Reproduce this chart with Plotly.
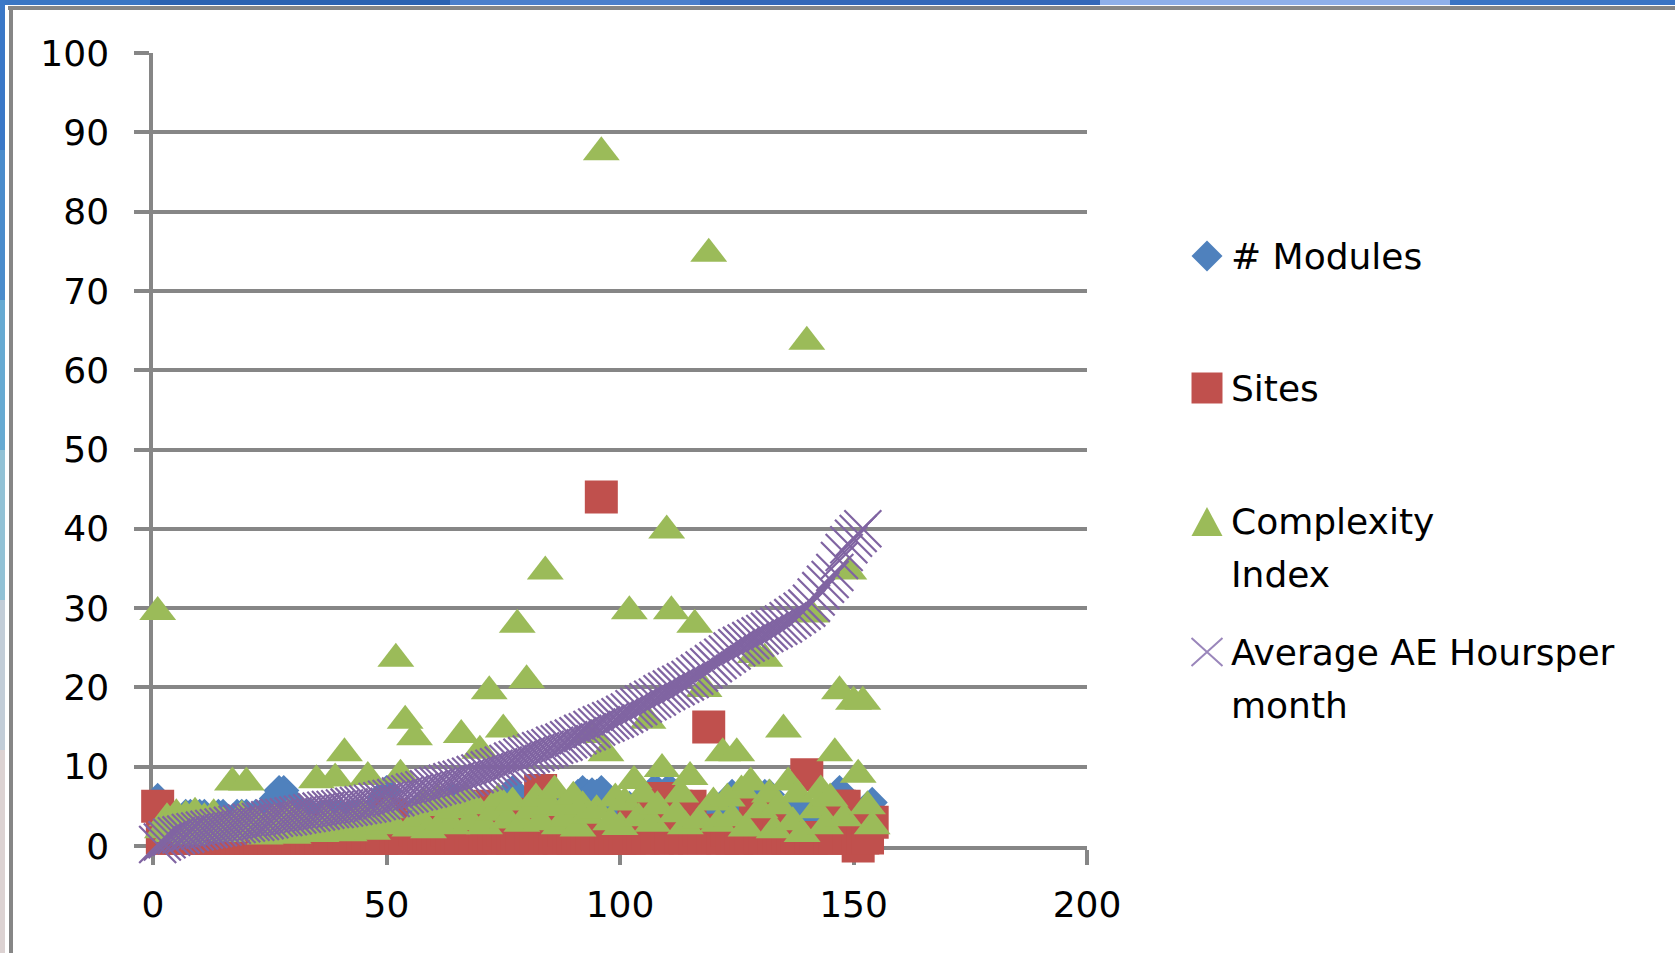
import plotly.graph_objects as go

# ---- data -----------------------------------------------------------------
record = list(range(1, 155))

modules = [
    6, 3, 3, 4, 3, 3, 4, 4, 3, 4,
    4, 3, 3, 4, 4, 3, 3, 4, 4, 4,
    3, 4, 4, 4, 5, 6, 7, 7, 6, 4,
    3, 4, 4, 4, 3, 4, 4, 4, 4, 4,
    3, 4, 4, 4, 4, 4, 3, 5, 6, 7,
    4, 4, 3, 4, 4, 4, 5, 4, 4, 4,
    3, 4, 4, 6, 6, 4, 4, 4, 4, 3,
    4, 4, 4, 4, 5, 6.5, 7, 6.5, 5, 4,
    4, 4, 4, 4, 3, 5, 4, 4, 4, 5,
    6.5, 7, 6.5, 6.7, 6.5, 7, 6, 5, 4, 4,
    4, 5, 4, 4, 4, 4, 7, 7, 5, 7,
    7, 6.5, 4, 4, 4, 4, 4, 4, 4, 4,
    4, 4, 4, 6.5, 4, 4, 4, 4, 4, 4,
    6.5, 6.5, 4, 4, 4, 4, 4, 4, 5, 4,
    4, 4, 4, 4, 5, 4, 7, 4, 4, 4,
    4, 4, 5, 5.5,
]

sites = [
    5, 1, 1, 1, 1, 1, 1, 1, 1, 1,
    1, 1, 1, 1, 1, 1, 1, 1, 1, 1,
    1, 1, 1, 1, 1, 1, 1, 2, 1, 1,
    1, 1, 1, 1, 1, 1, 2, 1, 1, 1,
    1, 1, 1, 1, 1, 1, 1, 1, 1, 1,
    4, 1, 1, 1, 1, 2, 1, 1, 1, 1,
    1, 1, 2, 1, 1, 1, 1, 1, 1, 5,
    1, 1, 1, 1, 2, 1, 1, 1, 1, 4,
    1, 1, 7, 1, 1, 1, 1, 2, 1, 1,
    1, 1, 1, 1, 1, 44, 1, 1, 1, 1,
    1, 1, 4, 1, 1, 1, 5, 1, 6, 1,
    1, 5, 1, 1, 5, 1, 2, 1, 15, 1,
    1, 1, 2, 1, 1, 1, 1, 1, 4, 1,
    1, 3, 1, 1, 1, 1, 1, 1, 1, 9,
    1, 1, 1, 1, 1, 1, 5, 5, 1, 1,
    0, 1, 1, 3,
]

complexity = [
    29.5, 2.0, 3.5, 1.5, 4.0, 2.5, 3.8, 1.2, 4.2, 2.8,
    3.5, 1.8, 4.0, 2.2, 3.0, 1.5, 8.0, 2.5, 3.8, 8.0,
    1.8, 3.2, 2.0, 1.2, 2.8, 3.5, 1.5, 2.2, 4.0, 1.3,
    2.5, 3.0, 1.8, 2.2, 8.3, 1.5, 3.4, 2.0, 8.5, 2.8,
    11.7, 1.6, 3.0, 2.4, 4.0, 8.7, 1.8, 3.2, 2.5, 4.5,
    3.0, 23.6, 9.0, 15.8, 2.2, 13.7, 3.5, 5.5, 2.0, 4.8,
    6.0, 3.0, 5.2, 2.5, 4.5, 14.0, 6.2, 3.0, 5.0, 12.0,
    2.5, 19.5, 4.2, 6.0, 14.7, 3.2, 5.5, 27.9, 2.8, 20.9,
    4.5, 6.0, 3.0, 34.6, 5.0, 7.0, 2.5, 4.8, 3.5, 6.2,
    2.2, 5.0, 3.8, 14.0, 4.5, 87.5, 11.7, 3.0, 6.0, 2.4,
    5.5, 29.6, 8.2, 3.5, 6.5, 15.8, 2.8, 5.0, 9.7, 39.8,
    29.6, 4.0, 6.5, 2.5, 8.7, 27.9, 3.2, 19.8, 74.7, 5.5,
    2.8, 11.7, 6.0, 3.5, 11.7, 7.0, 2.2, 8.0, 24.1, 4.5,
    23.6, 6.5, 2.0, 5.0, 14.7, 8.0, 3.0, 6.5, 1.5, 63.6,
    29.2, 4.5, 7.0, 2.5, 6.0, 11.7, 19.5, 3.5, 34.6, 18.2,
    9.0, 18.2, 5.0, 2.5,
]

# no hours recorded for the last two records
ae_hours = [
    0.2, 0.5, 0.8, 1.1, 1.3, 1.4, 1.5, 1.7, 1.8, 1.9,
    2.0, 2.1, 2.2, 2.3, 2.4, 2.5, 2.6, 2.7, 2.8, 2.9,
    3.0, 3.0, 3.1, 3.2, 3.3, 3.5, 3.6, 3.6, 3.7, 3.8,
    3.9, 4.0, 4.1, 4.2, 4.3, 4.4, 4.5, 4.6, 4.6, 4.7,
    4.8, 4.9, 5.0, 5.1, 5.2, 5.3, 5.4, 5.6, 5.7, 5.9,
    6.0, 6.1, 6.3, 6.5, 6.6, 6.8, 6.9, 7.1, 7.2, 7.4,
    7.6, 7.7, 7.9, 8.1, 8.3, 8.4, 8.6, 8.8, 9.0, 9.2,
    9.4, 9.6, 9.8, 10.0, 10.2, 10.4, 10.7, 10.9, 11.2, 11.4,
    11.6, 11.8, 12.0, 12.2, 12.4, 12.7, 12.9, 13.1, 13.4, 13.6,
    13.9, 14.2, 14.4, 14.7, 15.0, 15.3, 15.5, 15.8, 16.0, 16.3,
    16.6, 16.9, 17.3, 17.6, 17.9, 18.2, 18.5, 18.8, 19.2, 19.5,
    19.8, 20.1, 20.4, 20.7, 21.0, 21.4, 21.8, 22.2, 22.6, 23.0,
    23.4, 23.8, 24.2, 24.6, 25.0, 25.3, 25.6, 25.9, 26.2, 26.5,
    26.8, 27.1, 27.4, 27.7, 28.0, 28.4, 28.8, 29.2, 29.6, 30.0,
    30.6, 31.4, 32.2, 33.0, 33.6, 34.5, 36.0, 37.0, 38.0, 38.8,
    39.4, 40.0, None, None,
]

series_names = ["# Modules", "Sites", "Complexity Index", "Average AE Hoursper month"]
legend_lines = [["# Modules"], ["Sites"], ["Complexity", "Index"], ["Average AE Hoursper", "month"]]
x_ticks = [0, 50, 100, 150, 200]
y_ticks = [0, 10, 20, 30, 40, 50, 60, 70, 80, 90, 100]

# ---- styling --------------------------------------------------------------
BLUE, RED, GREEN, PURPLE = "#4F81BD", "#C0504D", "#9BBB59", "#8064A2"
GRID = "#868686"
FONT = "DejaVu Sans"
FS = 36

W, H = 1675, 953
L, R, T, B = 153, 588, 53, 107
PW, PH = W - L - R, H - T - B


def fx(px):
    return (px - L) / PW


def fy(py):
    return (H - B - py) / PH


fig = go.Figure()
fig.add_trace(go.Scatter(x=record, y=modules, name=series_names[0], mode="markers",
                         marker=dict(symbol="diamond", size=24, color=BLUE, line=dict(width=0)),
                         cliponaxis=False))
fig.add_trace(go.Scatter(x=record, y=sites, name=series_names[1], mode="markers",
                         marker=dict(symbol="square", size=33, color=RED, line=dict(width=0)),
                         cliponaxis=False))
fig.add_trace(go.Scatter(x=record, y=complexity, name=series_names[2], mode="markers",
                         marker=dict(symbol="triangle-up", size=32, color=GREEN, line=dict(width=0)),
                         cliponaxis=False))
fig.add_trace(go.Scatter(x=record, y=ae_hours, name=series_names[3], mode="markers",
                         marker=dict(symbol="x-thin", size=37, color=PURPLE,
                                     line=dict(width=2.2, color=PURPLE)),
                         cliponaxis=False))

axis_common = dict(
    showline=True, linecolor=GRID, linewidth=3.5,
    ticks="outside", ticklen=15, tickwidth=3.5, tickcolor=GRID,
    zeroline=False, layer="below traces",
    tickfont=dict(family=FONT, size=FS, color="black"),
)
fig.update_xaxes(range=[0, 200], tickvals=x_ticks, showgrid=False,
                 ticklabelstandoff=9, **axis_common)
fig.update_yaxes(range=[0, 100], tickvals=y_ticks, showgrid=True,
                 gridcolor=GRID, gridwidth=3.5, ticklabelstandoff=18, **axis_common)

shapes = []


def rect(x0, y0, x1, y1, color):
    shapes.append(dict(type="rect", xref="paper", yref="paper",
                       x0=fx(x0), x1=fx(x1), y0=fy(y1), y1=fy(y0),
                       fillcolor=color, line=dict(width=0), layer="above"))


# window frame: blue title strip on top, tinted strip on the left, grey border
top_strip = [(0, 150, "#3a76c4"), (150, 450, "#2a62b2"), (450, 700, "#4a7fcc"),
             (700, 1100, "#3468b8"), (1100, 1450, "#8fb0ea"), (1450, 1675, "#3a74c4")]
for a, b, c in top_strip:
    rect(a, 0, b, 5, c)
left_strip = [(0, 150, "#3a78c8"), (150, 300, "#4a8ccc"), (300, 450, "#66aad2"),
              (450, 600, "#92c2d6"), (600, 750, "#c2cdd8"), (750, 953, "#dcd2d2")]
for a, b, c in left_strip:
    rect(0, a, 5, b, c)
rect(8, 6, W, 10, GRID)
rect(9, 6, 13, H, GRID)

# legend keys
MX = 1207
key_rows = [256, 388, 521, 652]
hw = 15.5
cx, cy = MX, key_rows[0]
shapes.append(dict(type="path", xref="paper", yref="paper",
                   path=f"M{fx(cx - hw)},{fy(cy)} L{fx(cx)},{fy(cy - hw)} L{fx(cx + hw)},{fy(cy)} L{fx(cx)},{fy(cy + hw)} Z",
                   fillcolor=BLUE, line=dict(width=0)))
cy = key_rows[1]
shapes.append(dict(type="rect", xref="paper", yref="paper",
                   x0=fx(cx - hw), x1=fx(cx + hw), y0=fy(cy + hw), y1=fy(cy - hw),
                   fillcolor=RED, line=dict(width=0)))
cy = key_rows[2]
shapes.append(dict(type="path", xref="paper", yref="paper",
                   path=f"M{fx(cx - hw)},{fy(cy + 15)} L{fx(cx)},{fy(cy - 14)} L{fx(cx + hw)},{fy(cy + 15)} Z",
                   fillcolor=GREEN, line=dict(width=0)))
cy = key_rows[3]
shapes.append(dict(type="path", xref="paper", yref="paper",
                   path=f"M{fx(cx - hw)},{fy(cy - 14)} L{fx(cx + hw)},{fy(cy + 14)} M{fx(cx - hw)},{fy(cy + 14)} L{fx(cx + hw)},{fy(cy - 14)}",
                   line=dict(width=2, color="#9a86bb")))

annotations = []
line_gap = 53
for row, lines in zip(key_rows, legend_lines):
    for i, txt in enumerate(lines):
        annotations.append(dict(text=txt, xref="paper", yref="paper",
                                x=fx(1229), y=fy(row + i * line_gap),
                                xanchor="left", yanchor="middle", showarrow=False,
                                font=dict(family=FONT, size=FS, color="black")))

fig.update_layout(
    width=W, height=H,
    margin=dict(l=L, r=R, t=T, b=B, pad=0),
    paper_bgcolor="white", plot_bgcolor="white",
    showlegend=False,
    shapes=shapes, annotations=annotations,
)

fig.write_html("out.html")
